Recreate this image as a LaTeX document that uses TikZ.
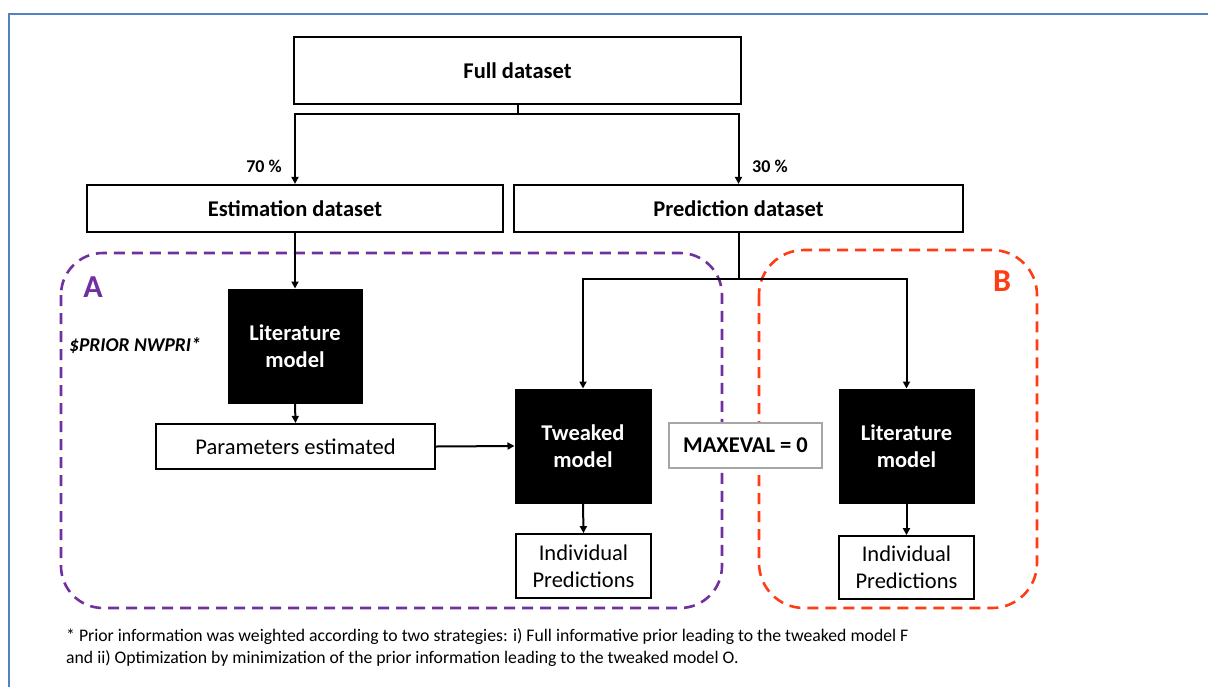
\documentclass[tikz,border=0pt]{standalone}
\usepackage{fontspec}
\setmainfont{Carlito}
\usetikzlibrary{arrows.meta}
\definecolor{frameblue}{RGB}{84,130,192}
\definecolor{apurple}{RGB}{112,48,160}
\definecolor{bred}{RGB}{255,60,20}
\tikzset{
  wbox/.style={draw=black,line width=2.2pt,fill=white,inner sep=0pt,align=center,font=\fontsize{22.5}{27}\selectfont},
  bbox/.style={draw=black,line width=1pt,fill=black,text=white,inner sep=0pt,align=center,font=\bfseries\fontsize{22.5}{27}\selectfont},
  conn/.style={line width=2pt,draw=black},
  arr/.style={conn,-{Triangle[length=7pt,width=7pt]}},
  grpbox/.style={line width=2.6pt,dash pattern=on 11pt off 7pt},
  pct/.style={font=\bfseries\fontsize{18}{20}\selectfont,inner sep=0pt},
  grplab/.style={font=\bfseries\fontsize{32}{34}\selectfont,inner sep=0pt},
  fnote/.style={font=\fontsize{17.7}{20}\selectfont,inner sep=0pt,anchor=west},
}
\begin{document}
\begin{tikzpicture}[x=1pt,y=-1pt]
\useasboundingbox (0,0) rectangle (1208,686);
\fill[white] (0,0) rectangle (1208,686);
% outer frame
\draw[frameblue,line width=2pt] (9,690) -- (9,14) -- (1212,14);

% group boxes
\draw[grpbox,apurple,rounded corners=42pt] (61,253) rectangle (722,608);
\draw[grpbox,bred,rounded corners=45pt] (759,250) rectangle (1037,608);
\node[grplab,apurple] (labA) at (93,287) {A};
\node[grplab,bred] (labB) at (1002,281) {B};

% nodes
\node[wbox,font=\bfseries\fontsize{22.5}{27}\selectfont,minimum width=447pt,minimum height=67pt] (full) at (517.5,70.5) {Full dataset};
\node[wbox,font=\bfseries\fontsize{22.5}{27}\selectfont,minimum width=416pt,minimum height=47pt] (est) at (295,208.5) {Estimation dataset};
\node[wbox,font=\bfseries\fontsize{22.5}{27}\selectfont,minimum width=449pt,minimum height=47pt] (pred) at (738.5,208.5) {Prediction dataset};
\node[bbox,minimum width=134pt,minimum height=114pt] (litA) at (295,346) {Literature\\model};
\node[wbox,minimum width=279pt,minimum height=45pt] (params) at (295.5,446.5) {Parameters estimated};
\node[bbox,minimum width=136pt,minimum height=114pt] (tweak) at (583,446) {Tweaked\\model};
\node[wbox,line width=1.8pt,minimum width=135pt,minimum height=64pt] (indA) at (583.5,566) {Individual\\Predictions};
\node[bbox,minimum width=135pt,minimum height=114pt] (litB) at (906.5,446) {Literature\\model};
\node[wbox,line width=1.8pt,minimum width=135pt,minimum height=63pt] (indB) at (906.5,567.5) {Individual\\Predictions};
\node[wbox,draw=gray!70,line width=1.6pt,minimum width=153pt,minimum height=45pt,font=\bfseries\fontsize{22.5}{27}\selectfont] (maxe) at (745.5,445.5) {MAXEVAL = 0};

\node[font=\bfseries\itshape\fontsize{19.5}{22}\selectfont,inner sep=0pt,anchor=west] (prior) at (69,346) {\$PRIOR NWPRI*};

% connectors
\coordinate (j1) at (517.5,114);
\coordinate (j2) at (738.5,279);
\draw[conn] (full.south) -- (j1);
\draw[arr] (j1) -| (est.north);
\draw[arr] (j1) -| (pred.north);
\node[pct,anchor=east] (p70) at (282,166) {70 \%};
\node[pct,anchor=west] (p30) at (752,166) {30 \%};
\draw[arr] (est.south) -- (litA.north);
\draw[arr] (litA.south) -- (params.north);
\draw[arr] (params.east) -- (tweak.west);
\draw[conn] (pred.south) -- (j2);
\draw[arr] (j2) -| (tweak.north);
\draw[arr] (j2) -| (litB.north);
\draw[arr] (tweak.south) -- (indA.north);
\draw[arr] (litB.south) -- (indB.north);

% footnote
\node[fnote] (fn1) at (66,637) {* Prior information was weighted according to two strategies: i) Full informative prior leading to the tweaked model F};
\node[fnote] (fn2) at (66,659) {and ii) Optimization by minimization of the prior information leading to the tweaked model O.};
\end{tikzpicture}
\end{document}
